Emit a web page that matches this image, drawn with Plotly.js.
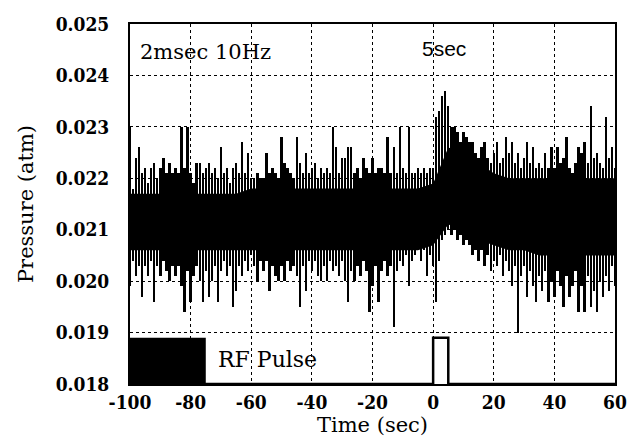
<!DOCTYPE html>
<html>
<head>
<meta charset="utf-8">
<script src="https://cdn.plot.ly/plotly-3.0.1.min.js"></script>
<style>html,body{margin:0;padding:0;background:#fff}#chart{width:640px;height:448px}</style>
</head>
<body>
<div id="chart"></div>
<script>
// time in seconds, 1-s bins
const timeSec = [];
for (let t = -100; t <= 60; t++) timeSec.push(t);

// maximum pressure in each bin (atm)
const peakHigh = [
0.0230,0.0218,0.0224,0.0226,0.0221,0.0222,0.0219,0.0222,0.0223,0.0220,
0.0222,0.0224,0.0221,0.0223,0.0221,0.0222,0.0221,0.0230,0.0222,0.0230,
0.0221,0.0219,0.0223,0.0223,0.0221,0.0222,0.0223,0.0221,0.0222,0.0220,
0.0226,0.0221,0.0222,0.0219,0.0222,0.0223,0.0221,0.0227,0.0221,0.0225,
0.0220,0.0220,0.0221,0.0220,0.0220,0.0225,0.0221,0.0222,0.0221,0.0220,
0.0228,0.0223,0.0222,0.0221,0.0220,0.0228,0.0223,0.0221,0.0225,0.0221,
0.0222,0.0223,0.0220,0.0222,0.0221,0.0222,0.0221,0.0230,0.0226,0.0221,
0.0224,0.0224,0.0226,0.0226,0.0221,0.0222,0.0220,0.0224,0.0222,0.0221,
0.0224,0.0221,0.0222,0.0222,0.0221,0.0228,0.0221,0.0226,0.0221,0.0230,
0.0222,0.0221,0.0230,0.0221,0.0221,0.0222,0.0221,0.0222,0.0221,0.0222,
0.0222,0.0232,0.0233,0.0236,0.0237,0.0234,0.0230,0.0230,0.0229,0.0227,
0.0229,0.0228,0.0227,0.0227,0.0225,0.0224,0.0226,0.0227,0.0224,0.0223,
0.0225,0.0227,0.0223,0.0224,0.0228,0.0225,0.0227,0.0223,0.0225,0.0222,
0.0224,0.0227,0.0223,0.0226,0.0222,0.0223,0.0222,0.0225,0.0222,0.0226,
0.0222,0.0226,0.0223,0.0224,0.0228,0.0222,0.0221,0.0223,0.0226,0.0225,
0.0227,0.0223,0.0234,0.0224,0.0225,0.0223,0.0222,0.0232,0.0224,0.0226,
0.0222];

// minimum pressure in each bin (atm)
const peakLow = [
0.0199,0.0204,0.0201,0.0203,0.0197,0.0203,0.0201,0.0204,0.0196,0.0203,
0.0201,0.0204,0.0202,0.0200,0.0203,0.0201,0.0203,0.0199,0.0194,0.0202,
0.0196,0.0201,0.0203,0.0200,0.0196,0.0202,0.0197,0.0200,0.0203,0.0196,
0.0202,0.0204,0.0201,0.0203,0.0195,0.0198,0.0203,0.0201,0.0204,0.0202,
0.0205,0.0203,0.0200,0.0204,0.0202,0.0204,0.0198,0.0203,0.0201,0.0200,
0.0203,0.0200,0.0204,0.0202,0.0203,0.0201,0.0195,0.0203,0.0198,0.0204,
0.0202,0.0204,0.0201,0.0200,0.0203,0.0200,0.0204,0.0202,0.0203,0.0201,
0.0204,0.0200,0.0196,0.0202,0.0200,0.0203,0.0201,0.0204,0.0202,0.0194,
0.0199,0.0203,0.0196,0.0202,0.0204,0.0201,0.0203,0.0191,0.0202,0.0204,
0.0203,0.0205,0.0199,0.0204,0.0205,0.0206,0.0204,0.0206,0.0201,0.0205,
0.0203,0.0196,0.0204,0.0208,0.0209,0.0210,0.0209,0.0210,0.0208,0.0209,
0.0207,0.0208,0.0207,0.0205,0.0206,0.0204,0.0206,0.0203,0.0205,0.0202,
0.0204,0.0203,0.0205,0.0201,0.0204,0.0202,0.0199,0.0203,0.0190,0.0201,
0.0203,0.0197,0.0202,0.0199,0.0196,0.0201,0.0198,0.0202,0.0196,0.0200,
0.0197,0.0202,0.0199,0.0195,0.0201,0.0197,0.0199,0.0202,0.0194,0.0199,
0.0194,0.0201,0.0195,0.0198,0.0194,0.0200,0.0197,0.0201,0.0198,0.0203,
0.0199];

// dense core of the trace, 5-s steps
const coreTime = [-100,-95,-90,-85,-80,-75,-70,-65,-60,-55,-50,-45,-40,-35,-30,-25,-20,-15,-10,-5,0,5,10,15,20,25,30,35,40,45,50,55,60];
const coreHigh = [0.0217,0.0217,0.0217,0.0217,0.0217,0.0217,0.0217,0.0217,0.0218,0.0218,0.0218,0.0218,0.0218,0.0218,0.0218,0.0218,0.0218,0.0218,0.0218,0.0218,0.0219,0.0226,0.0225,0.0223,0.0221,0.0220,0.0220,0.0220,0.0220,0.0220,0.0220,0.0220,0.0220];
const coreLow  = [0.0206,0.0206,0.0206,0.0206,0.0206,0.0206,0.0206,0.0206,0.0206,0.0206,0.0206,0.0206,0.0206,0.0206,0.0206,0.0206,0.0206,0.0206,0.0206,0.0206,0.0207,0.0211,0.0210,0.0208,0.0207,0.0206,0.0206,0.0205,0.0205,0.0205,0.0205,0.0205,0.0205];

// RF pulse trace
const pulseTime  = [-100, 0, 0, 5, 5, 60];
const pulseLevel = [0.018, 0.018, 0.0189, 0.0189, 0.018, 0.018];

// ticks
const xTickVals = [-100,-80,-60,-40,-20,0,20,40,60];
const xTickText = ['-100','-80','-60','-40','-20','0','20','40','60'];
const yTickVals = [0.018,0.019,0.020,0.021,0.022,0.023,0.024,0.025];
const yTickText = ['0.018','0.019','0.020','0.021','0.022','0.023','0.024','0.025'];

const spans = peakHigh.map((h, i) => h - peakLow[i]);
const cx = coreTime.concat(coreTime.slice().reverse());
const cy = coreHigh.concat(coreLow.slice().reverse());

const serif = 'DejaVu Serif, Liberation Serif, serif';
const tickFam = 'DejaVu Serif Condensed, DejaVu Serif, serif';

const traces = [
  {x: cx, y: cy, type: 'scatter', mode: 'lines', fill: 'toself', fillcolor: '#000',
   line: {width: 0, color: '#000'}, hoverinfo: 'skip', showlegend: false},
  {x: timeSec, y: spans, base: peakLow, type: 'bar', width: 0.8,
   marker: {color: '#000', line: {width: 0}}, showlegend: false},
  {x: pulseTime, y: pulseLevel, type: 'scatter', mode: 'lines', line: {color: '#000', width: 2.5},
   showlegend: false}
];

const layout = {
  width: 640, height: 448,
  margin: {l: 130, r: 25, t: 24, b: 64},
  paper_bgcolor: '#fff', plot_bgcolor: '#fff',
  showlegend: false,
  bargap: 0,
  xaxis: {
    range: [-100, 60], tickvals: xTickVals, ticktext: xTickText,
    showgrid: true, gridcolor: '#000', griddash: 'dot', gridwidth: 1,
    zeroline: false, showline: true, linecolor: '#000', linewidth: 2, mirror: true,
    ticks: '', ticklabelstandoff: 0,
    tickfont: {family: tickFam, size: 19, color: '#000', weight: 'bold'},
    title: {text: 'Time (sec)', font: {family: serif, size: 21, color: '#000'}, standoff: 4}
  },
  yaxis: {
    range: [0.018, 0.025], tickvals: yTickVals, ticktext: yTickText,
    showgrid: true, gridcolor: '#000', griddash: 'dot', gridwidth: 1,
    zeroline: false, showline: true, linecolor: '#000', linewidth: 2, mirror: true,
    ticks: '', ticklabelstandoff: 15,
    tickfont: {family: tickFam, size: 19, color: '#000', weight: 'bold'},
    title: {text: 'Pressure (atm)', font: {family: serif, size: 21, color: '#000'}, standoff: 16}
  },
  shapes: [
    {type: 'rect', xref: 'x', yref: 'y', x0: -100, x1: -75, y0: 0.018, y1: 0.0189,
     fillcolor: '#000', line: {width: 0}}
  ],
  annotations: [
    {x: -97.5, y: 0.02445, xref: 'x', yref: 'y', xanchor: 'left', yanchor: 'middle', showarrow: false,
     text: '2msec 10Hz', font: {family: serif, size: 21, color: '#000'}},
    {x: 3.5, y: 0.02452, xref: 'x', yref: 'y', xanchor: 'center', yanchor: 'middle', showarrow: false,
     text: '5sec', font: {family: 'Liberation Sans, Arial, sans-serif', size: 21, color: '#000'}},
    {x: -71.5, y: 0.01847, xref: 'x', yref: 'y', xanchor: 'left', yanchor: 'middle', showarrow: false,
     text: 'RF Pulse', font: {family: serif, size: 22, color: '#000'}}
  ]
};

Plotly.newPlot('chart', traces, layout, {staticPlot: true, displayModeBar: false});
</script>
</body>
</html>
